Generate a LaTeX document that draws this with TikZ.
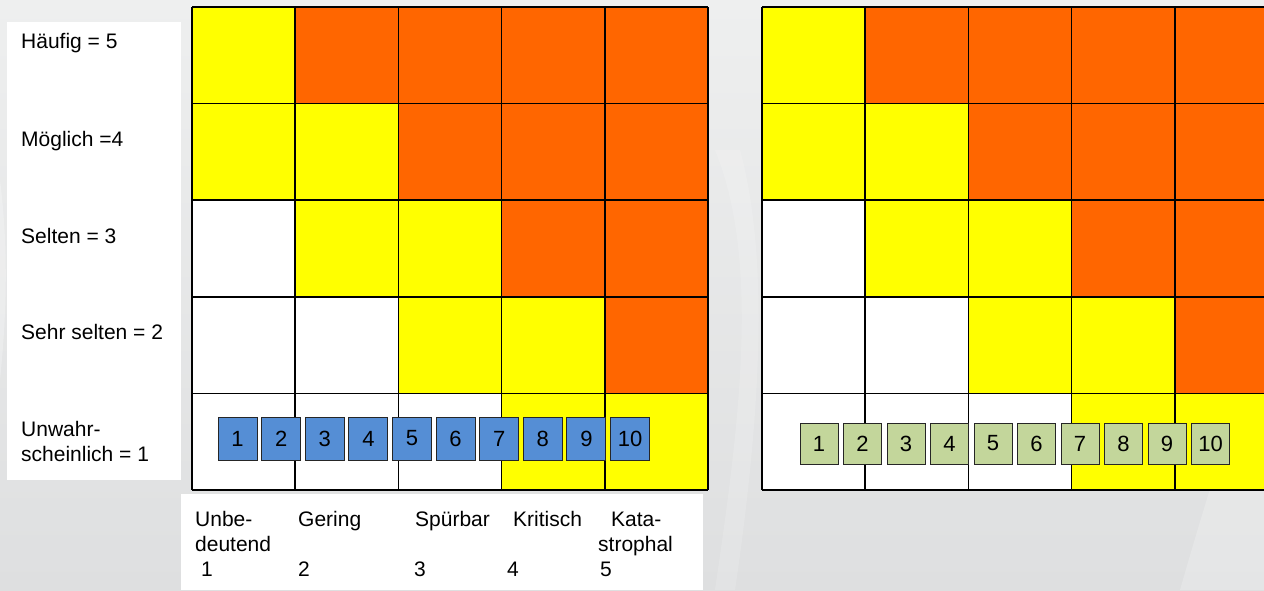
\documentclass[tikz,border=0pt]{standalone}
\usepackage{fontspec}
\setmainfont{Liberation Sans}
\definecolor{Y}{RGB}{255,255,0}
\definecolor{O}{RGB}{255,102,0}
\definecolor{W}{RGB}{255,255,255}
\definecolor{cblue}{RGB}{85,142,213}
\definecolor{cgreen}{RGB}{195,214,155}
\definecolor{bgtop}{RGB}{238,239,239}
\definecolor{bgbot}{RGB}{222,223,224}
\tikzset{
  lbl/.style={anchor=base west, inner sep=0pt, font=\fontsize{21}{25}\selectfont},
  gridline/.style={draw=black, line width=1.5pt},
  bluebox/.style={draw=black!85, line width=0.9pt, fill=cblue, minimum width=39pt, minimum height=43pt, inner sep=0pt, font=\fontsize{22}{24}\selectfont},
  greenbox/.style={draw=black!85, line width=0.9pt, fill=cgreen, minimum width=38pt, minimum height=41pt, inner sep=0pt, font=\fontsize{22}{24}\selectfont},
}
\newcommand\riskgrid[2]{%
  \foreach \r/\lst in {0/{Y,O,O,O,O},1/{Y,Y,O,O,O},2/{W,Y,Y,O,O},3/{W,W,Y,Y,O},4/{W,W,W,Y,Y}}{
    \foreach \cc [count=\c from 0] in \lst {
      \fill[\cc] ({#1+\c*103.2},{7+\r*96.6}) rectangle ++(103.2,96.6);
    }
  }
  \foreach \c in {0,...,5}{\draw[gridline] ({#1+\c*103.2},7) -- ({#1+\c*103.2},490);}
  \foreach \r in {0,...,5}{\draw[gridline] (#1,{7+\r*96.6}) -- ({#1+516},{7+\r*96.6});}
  \coordinate (#2nw) at (#1,7);
  \coordinate (#2se) at ({#1+516},490);
}
\begin{document}
\begin{tikzpicture}[x=1pt,y=-1pt]
\useasboundingbox (0,0) rectangle (1264,590);
\begin{scope}
\clip (0,0) rectangle (1264,590);
% background
\shade[top color=bgtop, bottom color=bgbot] (0,0) rectangle (1264,590);
\fill[white, opacity=0.25] (0,180) .. controls (10,260) and (5,330) .. (0,380) -- (0,180);
\fill[white, opacity=0.15] (715,150) .. controls (760,260) and (740,420) .. (715,590) -- (735,590) .. controls (760,420) and (770,260) .. (740,150) -- cycle;
\fill[white, opacity=0.2] (1264,330) .. controls (1230,420) and (1200,520) .. (1180,590) -- (1264,590) -- cycle;
% label boxes
\fill[white] (7,22) rectangle (181,480);
\fill[white] (181,494) rectangle (703,590);
% grids
\riskgrid{192}{L}
\riskgrid{762}{R}
\end{scope}
% row labels
\node[lbl] (l5) at (21,48) {Häufig = 5};
\node[lbl] (l4) at (21,146) {Möglich =4};
\node[lbl] (l3) at (21,243) {Selten = 3};
\node[lbl] (l2) at (21,339) {Sehr selten = 2};
\node[lbl] (l1a) at (21,436) {Unwahr-};
\node[lbl] (l1b) at (21,461) {scheinlich = 1};
% column labels
\node[lbl] (c1a) at (195,526) {Unbe-};
\node[lbl] (c1b) at (195,551) {deutend};
\node[lbl] (c2) at (298,526) {Gering};
\node[lbl] (c3) at (415,526) {Spürbar};
\node[lbl] (c4) at (513,526) {Kritisch};
\node[lbl] (c5a) at (611,526) {Kata-};
\node[lbl] (c5b) at (598,551) {strophal};
\node[lbl] (n1) at (201,576) {1};
\node[lbl] (n2) at (298,576) {2};
\node[lbl] (n3) at (414,576) {3};
\node[lbl] (n4) at (507,576) {4};
\node[lbl] (n5) at (600,576) {5};
% blue boxes
\foreach \i in {1,...,10}{
  \node[bluebox] (b\i) at ({218+19.6+(\i-1)*43.6},438.5) {\i};
}
% green boxes
\foreach \i in {1,...,10}{
  \node[greenbox] (g\i) at ({800+19+(\i-1)*43.5},443.5) {\i};
}
\end{tikzpicture}
\end{document}
